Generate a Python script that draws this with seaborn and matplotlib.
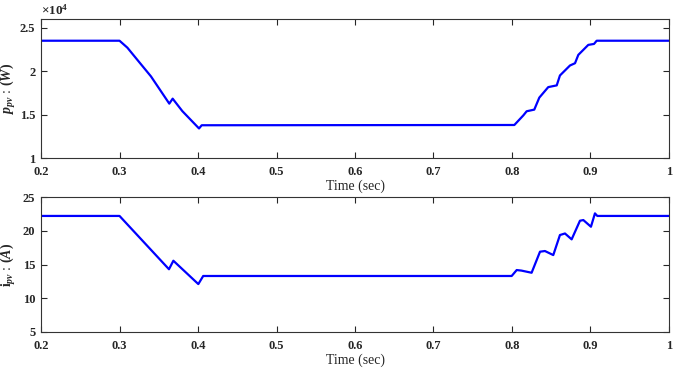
import numpy as np
import pandas as pd
import seaborn as sns
import matplotlib.pyplot as plt
from matplotlib.ticker import FuncFormatter

# PV power (W)
t_p = [0.2, 0.3, 0.31, 0.3236, 0.34, 0.3634, 0.3677, 0.38, 0.4013, 0.4047,
       0.803, 0.8144, 0.8187, 0.8284, 0.8348, 0.8462, 0.857, 0.8611, 0.8739,
       0.8803, 0.8845, 0.8972, 0.9045, 0.9079, 1.0]
p_pv = [23500, 23500, 22700, 21200, 19400, 16260, 16830, 15400, 13400, 13770,
        13800, 14900, 15380, 15570, 16950, 18160, 18360, 19500, 20650,
        20910, 21870, 23020, 23130, 23500, 23500]

# PV current (A)
t_i = [0.2, 0.3, 0.363, 0.3686, 0.4004, 0.4066,
       0.7996, 0.806, 0.812, 0.825, 0.8357, 0.842, 0.8526, 0.8611, 0.8675,
       0.876, 0.8866, 0.8909, 0.9006, 0.9057, 0.9087, 1.0]
i_pv = [22.2, 22.2, 14.3, 15.56, 12.1, 13.3,
        13.3, 14.18, 14.1, 13.78, 16.9, 17.0, 16.4, 19.37, 19.6,
        18.73, 21.49, 21.59, 20.6, 22.58, 22.2, 22.2]

df_p = pd.DataFrame({"t": t_p, "p": p_pv})
df_i = pd.DataFrame({"t": t_i, "i": i_pv})

sns.set_style("ticks")
plt.rcParams["font.family"] = ["Liberation Serif", "DejaVu Serif"]
plt.rcParams["mathtext.fontset"] = "custom"
plt.rcParams["mathtext.rm"] = "Liberation Serif:bold"
plt.rcParams["mathtext.it"] = "Liberation Serif:italic:bold"
plt.rcParams["mathtext.bf"] = "Liberation Serif:bold"

fig = plt.figure(figsize=(6.85, 3.69), dpi=100)
ax1 = fig.add_axes([0.0599, 0.5718, 0.9167, 0.3767])
ax2 = fig.add_axes([0.0599, 0.1003, 0.9167, 0.3657])

sns.lineplot(data=df_p, x="t", y="p", ax=ax1, color="#0000ff", linewidth=1.6)
sns.lineplot(data=df_i, x="t", y="i", ax=ax2, color="#0000ff", linewidth=1.6)

fmt_g = FuncFormatter(lambda v, pos: f"{v:g}")
for ax in (ax1, ax2):
    ax.set_xlim(0.2, 1.0)
    ax.set_xticks(np.arange(0.2, 1.01, 0.1))
    ax.xaxis.set_major_formatter(fmt_g)
    ax.tick_params(direction="in", top=True, right=True, length=4,
                   width=0.8, labelsize=9, pad=4)
    ax.tick_params(axis="x", pad=6)
    for s in ax.spines.values():
        s.set_linewidth(0.8)
        s.set_color("#333333")
    ax.set_xlabel("Time (sec)", fontsize=10, labelpad=1)

ax1.set_ylim(10000, 26000)
ax1.set_yticks([10000, 15000, 20000, 25000])
ax1.yaxis.set_major_formatter(FuncFormatter(lambda v, pos: f"{v / 1e4:g}"))
ax1.text(0.0, 1.01, r"$\times10^4$", transform=ax1.transAxes, fontsize=9.5,
         ha="left", va="bottom")
ax1.set_ylabel(r"$p_{pv}$ : $(W)$", fontsize=10)

ax2.set_ylim(5, 25)
ax2.set_yticks([5, 10, 15, 20, 25])
ax2.set_ylabel(r"$\mathrm{i}_{pv}$ : $(A)$", fontsize=10)

for ax in (ax1, ax2):
    ax.yaxis.set_label_coords(-0.037, 0.5)
    for lab in ax.get_xticklabels() + ax.get_yticklabels():
        lab.set_fontweight("bold")

fig.savefig("out.png", dpi=100)
